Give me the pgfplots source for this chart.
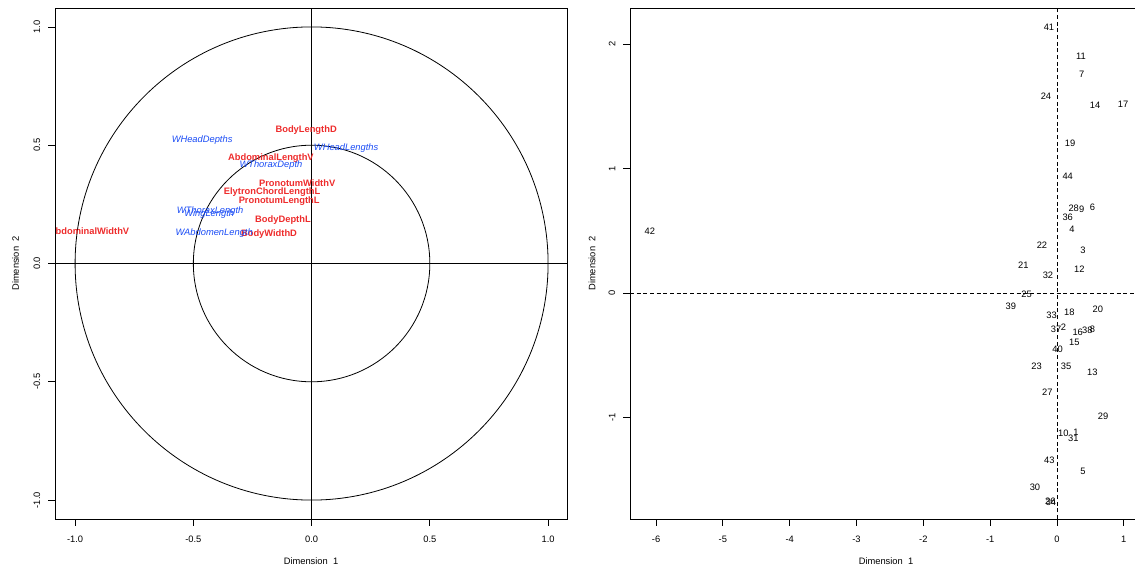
\documentclass[border=0pt]{standalone}
\usepackage{fontspec}
\setmainfont{Liberation Sans}
\usepackage{pgfplots}
\pgfplotsset{compat=1.18}
\usepackage{pgfplotstable}
\definecolor{vred}{RGB}{238,44,44}
\definecolor{vblue}{RGB}{25,75,245}
\newcommand\fs{\fontsize{7}{8}\selectfont}

\pgfplotstableread{
x y label
-0.023 0.564 BodyLengthD
-0.172 0.446 AbdominalLengthV
-0.061 0.339 PronotumWidthV
-0.167 0.302 ElytronChordLengthL
-0.137 0.262 PronotumLengthL
-0.121 0.184 BodyDepthL
-0.180 0.125 BodyWidthD
-0.941 0.137 AbdominalWidthV
}\redvars

\pgfplotstableread{
x y label
-0.463 0.522 WHeadDepths
0.146 0.488 WHeadLengths
-0.172 0.414 WThoraxDepth
-0.429 0.223 WThoraxLength
-0.433 0.209 WingLength
-0.412 0.129 WAbdomenLength
}\bluevars

\pgfplotstableread{
x y label
-0.12 2.137 41
0.36 1.904 11
0.37 1.759 7
-0.165 1.582 24
0.57 1.51 14
0.99 1.518 17
0.195 1.205 19
0.16 0.94 44
0.25 0.685 28
0.37 0.677 9
0.53 0.693 6
0.16 0.605 36
0.225 0.51 4
-0.225 0.383 22
0.39 0.345 3
-0.505 0.227 21
0.334 0.195 12
-0.135 0.145 32
-0.455 -0.008 25
-0.69 -0.104 39
-0.08 -0.177 33
0.185 -0.158 18
0.61 -0.131 20
-0.015 -0.287 37
0.095 -0.276 2
0.31 -0.313 16
0.455 -0.297 38
0.53 -0.287 8
0.26 -0.399 15
0.01 -0.452 40
-0.305 -0.592 23
0.135 -0.586 35
0.53 -0.637 13
-0.145 -0.793 27
0.69 -0.988 29
0.095 -1.127 10
0.285 -1.122 1
0.245 -1.167 31
-0.115 -1.341 43
0.39 -1.435 5
-0.33 -1.561 30
-0.10 -1.676 26
-0.09 -1.680 34
-6.093 0.498 42
}\obs

\pgfplotsset{
  base/.style={
    scale only axis, width=384pt, height=383.25pt, anchor=south west,
    axis line style={line width=0.6pt},
    every tick/.style={black, line width=0.6pt},
    tick align=outside, major tick length=5pt,
    xtick pos=left, ytick pos=left,
    font=\fs,
    xticklabel shift=4pt, yticklabel shift=2.5pt,
    yticklabel style={rotate=90, anchor=south},
    xlabel style={at={(axis description cs:0.5,-0.0822)}, anchor=center},
    ylabel style={at={(axis description cs:-0.077,0.5)}, anchor=center, rotate=0},
    clip marker paths=true,
  },
}

\begin{document}
\begin{tikzpicture}
\path[use as bounding box] (0,0) rectangle (851.25pt,426.75pt);
\clip (0,0) rectangle (851.25pt,426.75pt);

\begin{axis}[base, at={(41.25pt,37.5pt)},
  xmin=-1.085, xmax=1.080, ymin=-1.08, ymax=1.08,
  xtick={-1,-0.5,0,0.5,1}, xticklabels={-1.0,-0.5,0.0,0.5,1.0},
  ytick={-1,-0.5,0,0.5,1}, yticklabels={-1.0,-0.5,0.0,0.5,1.0},
  xlabel={Dimension\ \ 1}, ylabel={Dimension\ \ 2}]
  \draw[line width=0.6pt] (axis cs:0,0) circle[radius=1];
  \draw[line width=0.6pt] (axis cs:0,0) circle[radius=0.5];
  \draw[line width=0.6pt] ({axis cs:0,0}|-{rel axis cs:0,0}) -- ({axis cs:0,0}|-{rel axis cs:0,1});
  \draw[line width=0.6pt] ({axis cs:0,0}-|{rel axis cs:0,0}) -- ({axis cs:0,0}-|{rel axis cs:1,0});
  \addplot[only marks, mark=none, nodes near coords, point meta=explicit symbolic,
    nodes near coords style={anchor=center, font=\fs\bfseries, text=vred, inner sep=0pt}]
    table[meta=label] {\redvars};
  \addplot[only marks, mark=none, nodes near coords, point meta=explicit symbolic,
    nodes near coords style={anchor=center, font=\fs\itshape, text=vblue, inner sep=0pt}]
    table[meta=label] {\bluevars};
\end{axis}

\begin{axis}[base, at={(472.5pt,37.5pt)},
  xmin=-6.39, xmax=1.272, ymin=-1.815, ymax=2.29,
  xtick={-6,-5,-4,-3,-2,-1,0,1}, xticklabels={-6,-5,-4,-3,-2,-1,0,1},
  ytick={-1,0,1,2}, yticklabels={-1,0,1,2},
  xlabel={Dimension\ \ 1}, ylabel={Dimension\ \ 2},
  ylabel style={at={(axis description cs:-0.0742,0.5)}}]
  \draw[line width=0.6pt, dash pattern=on 3pt off 2pt] ({axis cs:0,0}|-{rel axis cs:0,0}) -- ({axis cs:0,0}|-{rel axis cs:0,1});
  \draw[line width=0.6pt, dash pattern=on 3pt off 2pt] ({axis cs:0,0}-|{rel axis cs:0,0}) -- ({axis cs:0,0}-|{rel axis cs:1,0});
  \addplot[only marks, mark=none, nodes near coords, point meta=explicit symbolic,
    nodes near coords style={anchor=center, font=\fs, text=black, inner sep=0pt}]
    table[meta=label] {\obs};
\end{axis}
\end{tikzpicture}
\end{document}
